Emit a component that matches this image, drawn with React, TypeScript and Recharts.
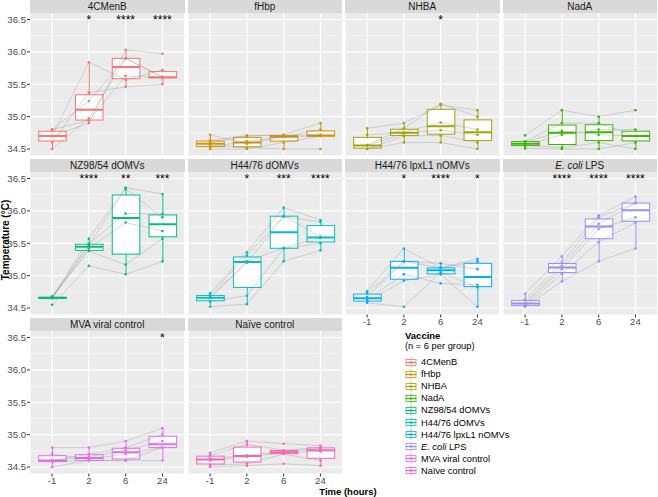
import React from 'react';
import { ComposedChart, Bar, Line, XAxis, YAxis, CartesianGrid } from 'recharts';

// ---------- data ----------
const timeLabels = ['-1', '2', '6', '24'];
const vaccineNames = [
  '4CMenB', 'fHbp', 'NHBA', 'NadA', 'NZ98/54 dOMVs', 'H44/76 dOMVs',
  'H44/76 lpxL1 nOMVs', 'E. coli LPS', 'MVA viral control', 'Naïve control',
];
const vaccineColours = [
  '#F8766D', '#D89000', '#A3A500', '#39B600', '#00BF7D', '#00BFC4',
  '#00B0F6', '#9590FF', '#E76BF3', '#FF62BC',
];
const yMajorTicks = [34.5, 35.0, 35.5, 36.0, 36.5];
const yMinorTicks = [34.75, 35.25, 35.75, 36.25];
const yDomain = [34.4, 36.6];
const starLevel = 36.5;

// temperatures: one row per time point, one value per animal (n = 6)
const temp4CMenB = [
  [34.8, 34.8, 34.7, 34.7, 34.6, 34.5],
  [35.24, 34.94, 35.84, 34.9, 35.37, 34.97],
  [35.9, 35.63, 35.57, 36.03, 35.46, 35.9],
  [35.62, 35.6, 35.72, 35.97, 35.5, 35.6],
];
const tempFHbp = [
  [34.72, 34.6, 34.56, 34.63, 34.53, 34.5],
  [34.58, 34.7, 34.52, 34.71, 34.62, 34.5],
  [34.69, 34.72, 34.5, 34.71, 34.69, 34.6],
  [34.8, 34.9, 34.5, 34.72, 34.7, 34.7],
];
const tempNHBA = [
  [34.82, 34.72, 34.55, 34.5, 34.56, 34.5],
  [34.9, 34.76, 34.74, 34.6, 34.82, 34.7],
  [35.18, 34.91, 34.79, 34.6, 35.2, 34.71],
  [35.1, 34.8, 34.72, 34.5, 35.0, 34.6],
];
const tempNadA = [
  [34.71, 34.6, 34.55, 34.51, 34.62, 34.56],
  [35.1, 34.78, 34.72, 34.5, 34.9, 34.52],
  [35.0, 34.72, 34.8, 34.5, 34.9, 34.6],
  [35.1, 34.7, 34.8, 34.6, 34.7, 34.5],
];
const tempNZ9854 = [
  [34.65, 34.65, 34.66, 34.55, 34.67, 34.68],
  [35.57, 35.42, 35.47, 35.15, 35.49, 35.38],
  [36.36, 35.82, 36.34, 35.02, 35.96, 35.17],
  [36.26, 35.69, 35.9, 35.22, 35.95, 35.57],
];
const tempH4476 = [
  [34.73, 34.67, 34.65, 34.52, 34.7, 34.6],
  [35.36, 35.22, 35.2, 34.56, 35.31, 34.69],
  [36.05, 35.43, 35.91, 35.22, 35.92, 35.42],
  [35.86, 35.58, 35.83, 35.39, 35.6, 35.5],
];
const tempLpxL1 = [
  [34.76, 34.67, 34.6, 34.58, 34.73, 34.63],
  [35.42, 35.22, 34.92, 34.52, 35.22, 35.02],
  [35.12, 35.19, 35.02, 35.05, 35.12, 34.88],
  [35.26, 35.1, 34.52, 34.82, 35.22, 34.86],
];
const tempEcoli = [
  [34.72, 34.58, 34.56, 34.52, 34.63, 34.53],
  [35.3, 35.15, 35.1, 34.91, 35.2, 35.03],
  [35.93, 35.8, 35.72, 35.22, 35.9, 35.52],
  [36.22, 36.12, 35.9, 35.42, 36.12, 35.82],
];
const tempMVA = [
  [34.8, 34.6, 34.7, 34.5, 34.6, 34.58],
  [34.8, 34.66, 34.62, 34.6, 34.7, 34.6],
  [34.9, 34.76, 34.7, 34.6, 34.8, 34.6],
  [35.1, 34.9, 34.8, 34.6, 35.0, 34.8],
];
const tempNaive = [
  [34.72, 34.6, 34.63, 34.5, 34.68, 34.53],
  [34.9, 34.66, 34.68, 34.52, 34.85, 34.55],
  [34.86, 34.72, 34.74, 34.55, 34.76, 34.7],
  [34.83, 34.74, 34.78, 34.52, 34.8, 34.6],
];

const stars4CMenB = ['', '*', '****', '****'];
const starsFHbp = ['', '', '', ''];
const starsNHBA = ['', '', '*', ''];
const starsNadA = ['', '', '', ''];
const starsNZ9854 = ['', '****', '**', '***'];
const starsH4476 = ['', '*', '***', '****'];
const starsLpxL1 = ['', '*', '****', '*'];
const starsEcoli = ['', '****', '****', '****'];
const starsMVA = ['', '', '', '*'];
const starsNaive = ['', '', '', ''];

const temperatures = [
  temp4CMenB, tempFHbp, tempNHBA, tempNadA, tempNZ9854,
  tempH4476, tempLpxL1, tempEcoli, tempMVA, tempNaive,
];
const stars = [
  stars4CMenB, starsFHbp, starsNHBA, starsNadA, starsNZ9854,
  starsH4476, starsLpxL1, starsEcoli, starsMVA, starsNaive,
];

// ---------- layout ----------
const FONT = '"Liberation Sans", Arial, Helvetica, sans-serif';
const PLOT_LEFTS = [30, 187.5, 345, 502.5];
const PLOT_TOPS = [13, 172, 331];
const PW = 154.5;
const PH = 142.5;
const STRIP_H = 13;
const YW = 30;
const XH = 14;
const UNIT = PW / 4.2;
const XPAD = 0.1 * UNIT;
const BOX_W = 0.75 * UNIT;
const ANIMALS = [0, 1, 2, 3, 4, 5];

// ---------- stats ----------
function quantile(sorted: number[], p: number) {
  const h = (sorted.length - 1) * p;
  const lo = Math.floor(h);
  const hi = Math.min(lo + 1, sorted.length - 1);
  return sorted[lo] + (h - lo) * (sorted[hi] - sorted[lo]);
}
function boxStats(values: number[]) {
  const s = [...values].sort((a, b) => a - b);
  const q1 = quantile(s, 0.25);
  const med = quantile(s, 0.5);
  const q3 = quantile(s, 0.75);
  const iqr = q3 - q1;
  const inside = s.filter((v) => v >= q1 - 1.5 * iqr - 1e-9 && v <= q3 + 1.5 * iqr + 1e-9);
  return { q1, med, q3, lo: inside[0], hi: inside[inside.length - 1] };
}

function buildRows(idx: number) {
  return timeLabels.map((t, i) => {
    const vals = temperatures[idx][i];
    const st = boxStats(vals);
    const row: any = { time: t, ...st, whisk: [st.lo, st.hi], star: stars[idx][i], starY: starLevel };
    ANIMALS.forEach((a) => { row['a' + a] = vals[a]; });
    return row;
  });
}

const makeBoxShape = (colour: string) => (props: any) => {
  const { x, y, width, height, payload } = props;
  const { lo, hi, q1, med, q3 } = payload;
  const span = hi - lo;
  const ppu = span > 0 ? height / span : 0;
  const py = (v: number) => y + (hi - v) * ppu;
  const cx = x + width / 2;
  return (
    <g>
      <line x1={cx} x2={cx} y1={py(hi)} y2={py(q3)} stroke={colour} strokeWidth={1} />
      <line x1={cx} x2={cx} y1={py(q1)} y2={py(lo)} stroke={colour} strokeWidth={1} />
      <rect x={x} y={py(q3)} width={width} height={Math.max(py(q1) - py(q3), 0.5)}
        fill="#ffffff" fillOpacity={0.9} stroke={colour} strokeWidth={1} />
      <line x1={x} x2={x + width} y1={py(med)} y2={py(med)} stroke={colour} strokeWidth={2} />
    </g>
  );
};

const renderStar = (props: any) => {
  const { cx, cy, payload, index } = props;
  if (!payload || !payload.star) return <g key={'s' + index} />;
  return (
    <text key={'s' + index} x={cx} y={cy + 4.5} textAnchor="middle" fontSize={12}
      fontFamily={FONT} fill="#000">{payload.star}</text>
  );
};

function Panel({ idx }: { idx: number }) {
  const row = Math.floor(idx / 4);
  const col = idx % 4;
  const showY = col === 0;
  const showX = idx >= 6;
  const colour = vaccineColours[idx];
  const data = buildRows(idx);
  const left = PLOT_LEFTS[col];
  const top = PLOT_TOPS[row];
  const name = vaccineNames[idx];
  const stripLabel = name === 'E. coli LPS'
    ? (<span><i>E. coli</i> LPS</span>)
    : name;
  return (
    <>
      <div style={{
        position: 'absolute', left, top: top - STRIP_H, width: PW, height: STRIP_H,
        background: '#D9D9D9', color: '#1A1A1A', fontSize: 10, fontFamily: FONT,
        textAlign: 'center', lineHeight: STRIP_H + 'px', whiteSpace: 'nowrap',
      }}>{stripLabel}</div>
      <div style={{ position: 'absolute', left: left - (showY ? YW : 0), top }}>
        <ComposedChart width={PW + (showY ? YW : 0)} height={PH + (showX ? XH : 0)} data={data}
          margin={{ top: 0, right: 0, bottom: 0, left: 0 }}>
          <CartesianGrid fill="#EBEBEB" stroke="#FFFFFF" strokeWidth={1.1}
            horizontalValues={yMajorTicks} strokeDasharray="" />
          <CartesianGrid stroke="#FFFFFF" strokeWidth={0.5} vertical={false}
            horizontalValues={yMinorTicks} strokeDasharray="" />
          <XAxis dataKey="time" type="category" padding={{ left: XPAD, right: XPAD }}
            hide={!showX} height={XH} axisLine={false} tickSize={3} tickMargin={1}
            interval={0} tickLine={{ stroke: '#333333' }}
            tick={{ fontSize: 9.6, fill: '#4D4D4D', fontFamily: FONT }} />
          <YAxis type="number" domain={yDomain} ticks={yMajorTicks} allowDataOverflow
            hide={!showY} width={YW} axisLine={false} tickSize={3} tickMargin={1}
            tickLine={{ stroke: '#333333' }} tickFormatter={(v: number) => v.toFixed(1)}
            tick={{ fontSize: 9.6, fill: '#4D4D4D', fontFamily: FONT }} />
          <Bar dataKey="whisk" barSize={BOX_W} isAnimationActive={false}
            shape={makeBoxShape(colour)} />
          {ANIMALS.map((a) => (
            <Line key={'l' + a} dataKey={'a' + a} stroke="#8C8C8C" strokeOpacity={0.55}
              strokeWidth={0.6} dot={false} activeDot={false} isAnimationActive={false} />
          ))}
          {ANIMALS.map((a) => (
            <Line key={'p' + a} dataKey={'a' + a} stroke="none"
              dot={{ r: 1.3, fill: colour, stroke: 'none' }} activeDot={false}
              isAnimationActive={false} />
          ))}
          <Line dataKey="starY" stroke="none" dot={renderStar} activeDot={false}
            isAnimationActive={false} />
        </ComposedChart>
      </div>
    </>
  );
}

function LegendKey({ colour }: { colour: string }) {
  return (
    <svg width={12} height={11} style={{ display: 'block' }}>
      <line x1={6} x2={6} y1={0.5} y2={10.5} stroke={colour} strokeWidth={0.8} />
      <rect x={1} y={2.5} width={10} height={6} fill="#fff" fillOpacity={0.8}
        stroke={colour} strokeWidth={0.8} />
      <line x1={1} x2={11} y1={5.5} y2={5.5} stroke={colour} strokeWidth={1.2} />
      <circle cx={6} cy={5.5} r={1.3} fill={colour} />
    </svg>
  );
}

function Legend() {
  return (
    <div style={{ position: 'absolute', left: 405, top: 330, fontFamily: FONT, color: '#000' }}>
      <div style={{ fontSize: 9.5, fontWeight: 'bold', lineHeight: '11px' }}>Vaccine</div>
      <div style={{ fontSize: 9.3, lineHeight: '11px', marginBottom: 4 }}>(n = 6 per group)</div>
      {vaccineNames.map((n, i) => (
        <div key={n} style={{ display: 'flex', alignItems: 'center', height: 12.1 }}>
          <LegendKey colour={vaccineColours[i]} />
          <span style={{ fontSize: 9.3, marginLeft: 4, whiteSpace: 'nowrap' }}>
            {n === 'E. coli LPS' ? (<><i>E. coli</i> LPS</>) : n}
          </span>
        </div>
      ))}
    </div>
  );
}

export default function App() {
  return (
    <div style={{
      position: 'absolute', left: 0, top: 0, width: 658, height: 497,
      background: '#FFFFFF', overflow: 'hidden', fontFamily: FONT,
    }}>
      {vaccineNames.map((_, i) => <Panel key={i} idx={i} />)}
      <svg width={658} height={497} style={{ position: 'absolute', left: 0, top: 0, pointerEvents: 'none' }}>
        <text transform="translate(8.5, 240) rotate(-90)" textAnchor="middle" fontSize={10}
          fontWeight="bold" fontFamily={FONT} fill="#000">Temperature (°C)</text>
        <text x={348} y={495} textAnchor="middle" fontSize={9.5} fontWeight="bold"
          fontFamily={FONT} fill="#000">Time (hours)</text>
      </svg>
      <Legend />
    </div>
  );
}
